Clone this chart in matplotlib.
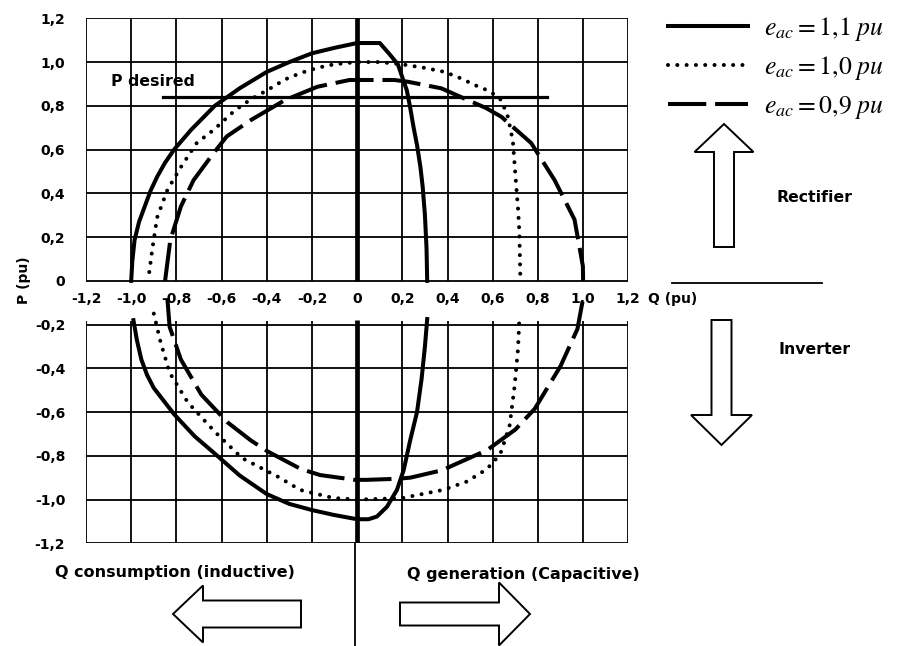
import matplotlib

matplotlib.use("Agg")
import matplotlib.pyplot as plt
from matplotlib.lines import Line2D
from matplotlib.patches import FancyArrow

plt.rcParams["font.family"] = ["DejaVu Sans"]
plt.rcParams["mathtext.fontset"] = "stix"

# grid / tick values (pu), shared by both axes
grid_ticks = [-1.2, -1.0, -0.8, -0.6, -0.4, -0.2, 0.0, 0.2, 0.4, 0.6, 0.8, 1.0, 1.2]
tick_labels = ["-1,2", "-1,0", "-0,8", "-0,6", "-0,4", "-0,2", "0",
               "0,2", "0,4", "0,6", "0,8", "1,0", "1,2"]

# e_ac = 1.1 pu, rectifier (P > 0) and inverter (P < 0) branches
q_11_rect = [-1.00, -0.995, -0.985, -0.965, -0.94, -0.915, -0.885, -0.85, -0.81, -0.735,
             -0.63, -0.52, -0.40, -0.30, -0.20, -0.10, 0.00, 0.10, 0.14, 0.18, 0.20,
             0.22, 0.235, 0.25, 0.265, 0.28, 0.29, 0.30, 0.307, 0.31]
p_11_rect = [0.00, 0.09, 0.187, 0.27, 0.34, 0.41, 0.476, 0.54, 0.60, 0.69,
             0.80, 0.88, 0.955, 1.00, 1.04, 1.065, 1.087, 1.087, 1.04, 0.99, 0.93,
             0.87, 0.79, 0.70, 0.62, 0.52, 0.43, 0.30, 0.15, 0.00]
q_11_inv = [-0.99, -0.975, -0.955, -0.93, -0.90, -0.87, -0.81, -0.72, -0.63, -0.52, -0.40,
            -0.30, -0.20, -0.105, 0.00, 0.05, 0.087, 0.132, 0.176, 0.206, 0.235, 0.265,
            0.285, 0.30, 0.31]
p_11_inv = [-0.18, -0.27, -0.36, -0.43, -0.49, -0.53, -0.61, -0.71, -0.79, -0.89, -0.975,
            -1.02, -1.048, -1.07, -1.09, -1.09, -1.078, -1.033, -0.956, -0.865, -0.728, -0.60,
            -0.45, -0.30, -0.175]

# e_ac = 1.0 pu
q_10_rect = [-0.92, -0.905, -0.885, -0.84, -0.78, -0.71, -0.635, -0.54, -0.47, -0.40,
             -0.32, -0.25, -0.17, -0.10, 0.00, 0.10, 0.195, 0.29, 0.387, 0.46, 0.52,
             0.59, 0.638, 0.667, 0.689, 0.703, 0.712, 0.718, 0.722]
p_10_rect = [0.04, 0.156, 0.29, 0.415, 0.52, 0.63, 0.69, 0.78, 0.83, 0.87,
             0.92, 0.95, 0.975, 0.99, 1.00, 1.00, 0.99, 0.975, 0.955, 0.925, 0.895,
             0.865, 0.826, 0.75, 0.64, 0.447, 0.33, 0.22, 0.02]
q_10_inv = [-0.90, -0.87, -0.83, -0.75, -0.63, -0.51, -0.35, -0.252, -0.105, 0.00, 0.195,
            0.38, 0.485, 0.56, 0.60, 0.638, 0.675, 0.697, 0.712, 0.718]
p_10_inv = [-0.15, -0.28, -0.42, -0.555, -0.69, -0.81, -0.896, -0.956, -0.993, -1.00, -0.994,
            -0.956, -0.918, -0.87, -0.835, -0.78, -0.66, -0.48, -0.31, -0.17]

# e_ac = 0.9 pu
q_09_rect = [-0.85, -0.827, -0.78, -0.724, -0.636, -0.577, -0.47, -0.32, -0.176, -0.034,
             0.0, 0.165, 0.224, 0.372, 0.49, 0.57, 0.638, 0.77, 0.874, 0.962, 0.999, 1.00]
p_09_rect = [0.00, 0.186, 0.34, 0.46, 0.583, 0.66, 0.735, 0.826, 0.887, 0.918,
             0.918, 0.918, 0.91, 0.88, 0.826, 0.79, 0.75, 0.63, 0.46, 0.28, 0.067, 0.00]
q_09_inv = [-0.84, -0.83, -0.78, -0.69, -0.575, -0.47, -0.396, -0.25, -0.164, -0.009, 0.04,
            0.18, 0.235, 0.38, 0.41, 0.575, 0.70, 0.786, 0.90, 0.975, 1.00]
p_09_inv = [-0.08, -0.21, -0.36, -0.52, -0.646, -0.73, -0.78, -0.86, -0.888, -0.91, -0.91,
            -0.905, -0.90, -0.865, -0.85, -0.774, -0.68, -0.585, -0.39, -0.22, -0.08]

p_desired = 0.84
q_desired = [-0.86, 0.84]

legend_labels = [r"$e_{ac} = 1{,}1\;pu$", r"$e_{ac} = 1{,}0\;pu$", r"$e_{ac} = 0{,}9\;pu$"]

LW = 2.9
dotted = dict(linestyle=(0, (0.01, 2.3)), dash_capstyle="round")
dashed = dict(linestyle=(0, (9.5, 2.2)), dash_capstyle="butt")
bold = dict(fontweight="bold")

fig = plt.figure(figsize=(9.1, 6.46), dpi=100)
ax = fig.add_axes([86 / 910, 1 - 543.3 / 646, (628.3 - 86) / 910, (543.3 - 18.3) / 646])
ax.set_xlim(-1.2, 1.2)
ax.set_ylim(-1.2, 1.2)
for spine in ax.spines.values():
    spine.set_visible(False)

# two grid blocks: rectifier (0..1.2) and inverter (-1.2..-0.2)
upper_levels = [v for v in grid_ticks if v >= 0]
lower_levels = [v for v in grid_ticks if v <= -0.2]
ax.vlines(grid_ticks, 0, 1.2, color="black", lw=1.3, zorder=1)
ax.vlines(grid_ticks, -1.2, -0.185, color="black", lw=1.3, zorder=1)
ax.hlines(upper_levels, -1.2, 1.2, color="black", lw=1.3, zorder=1)
ax.hlines(lower_levels, -1.2, 1.2, color="black", lw=1.3, zorder=1)

# P axis through Q = 0
ax.vlines(0, 0, 1.2, color="black", lw=3.4, zorder=3)
ax.vlines(0, -1.2, -0.18, color="black", lw=3.4, zorder=3)
ax.plot([-0.01, -0.01], [-1.2, -1.7], color="black", lw=1.3, clip_on=False)

ax.plot(q_11_rect, p_11_rect, color="black", lw=LW, solid_joinstyle="round", zorder=4)
ax.plot(q_11_inv, p_11_inv, color="black", lw=LW, solid_joinstyle="round", zorder=4)
ax.plot(q_10_rect, p_10_rect, color="black", lw=LW, zorder=4, **dotted)
ax.plot(q_10_inv, p_10_inv, color="black", lw=LW, zorder=4, **dotted)
ax.plot(q_09_rect, p_09_rect, color="black", lw=LW, zorder=4, clip_on=False, **dashed)
ax.plot(q_09_inv, p_09_inv, color="black", lw=LW, zorder=4, clip_on=False, **dashed)

ax.plot(q_desired, [p_desired, p_desired], color="black", lw=2.3, zorder=4)
ax.text(-1.09, 0.91, "P desired", ha="left", va="center", fontsize=11.3, **bold)

ax.set_xticks([])
ax.set_yticks(grid_ticks, tick_labels, fontsize=10, **bold)
ax.tick_params(axis="y", length=0, pad=15)
for q, lbl in zip(grid_ticks, tick_labels):
    ax.text(q, -0.085, lbl, ha="center", va="center", fontsize=10, zorder=5, **bold)
ax.text(1.288, -0.085, "Q (pu)", ha="left", va="center", fontsize=10, **bold)
fig.text(24 / 910, 1 - 280 / 646, "P (pu)", rotation=90, ha="center", va="center",
         fontsize=10, **bold)

handles = [
    Line2D([], [], color="black", lw=LW),
    Line2D([], [], color="black", lw=LW, **dotted),
    Line2D([], [], color="black", lw=LW, **dashed),
]
ax.legend(handles, legend_labels, loc="upper left", bbox_to_anchor=(668 / 910, 1 - 15 / 646),
          bbox_transform=fig.transFigure, frameon=False, fontsize=18.5,
          handlelength=3.1, handletextpad=0.65, labelspacing=0.42, borderaxespad=0, borderpad=0)

# annotation layer in pixel units
deco = fig.add_axes([0, 0, 1, 1], zorder=5)
deco.set_xlim(0, 910)
deco.set_ylim(646, 0)
deco.axis("off")
deco.patch.set_visible(False)

arrow_style = dict(length_includes_head=True, fc="white", ec="black", lw=1.4)
deco.add_patch(FancyArrow(724, 247, 0, -123, width=20, head_width=59, head_length=28, **arrow_style))
deco.add_patch(FancyArrow(721.5, 320, 0, 125, width=20, head_width=61, head_length=30, **arrow_style))
deco.add_patch(FancyArrow(301, 614, -128, 0, width=27, head_width=57, head_length=30, **arrow_style))
deco.add_patch(FancyArrow(400, 614, 130, 0, width=23, head_width=63, head_length=31, **arrow_style))
deco.plot([672, 822], [283, 283], color="black", lw=1.3)

deco.text(777, 197, "Rectifier", ha="left", va="center", fontsize=11.3, **bold)
deco.text(778, 350, "Inverter", ha="left", va="center", fontsize=11.3, **bold)
deco.text(55, 572, "Q consumption (inductive)", ha="left", va="center", fontsize=11.5, **bold)
deco.text(407, 574, "Q generation (Capacitive)", ha="left", va="center", fontsize=11.5, **bold)

fig.savefig("out.png", dpi=100)
